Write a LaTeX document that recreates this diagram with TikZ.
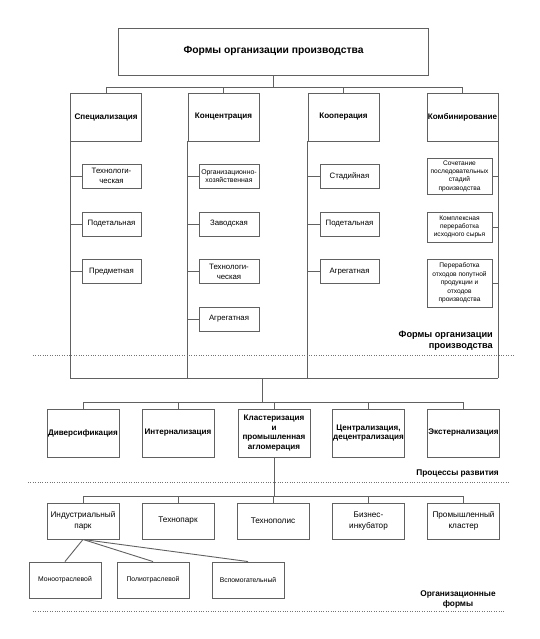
\documentclass[tikz,border=0pt]{standalone}
\usepackage{fontspec}
\setmainfont{Liberation Sans}
\begin{document}
\begin{tikzpicture}[x=1pt,y=-1pt,
  lc/.style={draw=black!62, line width=0.9pt},
  bx/.style={lc, fill=white, inner sep=0pt, align=center, text=black},
  titlebox/.style={bx, minimum width=310pt, minimum height=47pt, font=\bfseries\fontsize{10.3}{12}\selectfont},
  mainbox/.style={bx, minimum width=71pt, minimum height=48pt, font=\bfseries\fontsize{8.1}{9.4}\selectfont},
  procbox/.style={bx, minimum width=72pt, minimum height=48pt, font=\bfseries\fontsize{8.1}{9.4}\selectfont},
  subbox/.style={bx, minimum height=24pt, font=\fontsize{7.8}{10}\selectfont},
  kombbox/.style={bx, minimum width=65pt, font=\fontsize{6.6}{8.4}\selectfont},
  formbox/.style={bx, minimum width=72pt, minimum height=36pt, font=\fontsize{8.2}{11}\selectfont},
  leafbox/.style={bx, minimum width=72pt, minimum height=36pt, font=\fontsize{6.8}{8}\selectfont},
  dotline/.style={draw=black!55, line width=0.8pt, dash pattern=on 1pt off 1.4pt},
  lbl/.style={inner sep=0pt, font=\bfseries\fontsize{8.3}{10}\selectfont}
]
\useasboundingbox (0,0) rectangle (540,639);
\fill[white] (0,0) rectangle (540,639);

% title
\node[titlebox] (top) at (273.5,51.5) {Формы организации производства};

% level 2
\node[mainbox] (spec) at (106,117) {Специализация};
\node[mainbox] (konc) at (223.5,117) {Концентрация};
\node[mainbox] (koop) at (343.5,117) {Кооперация};
\node[mainbox] (komb) at (462.5,117) {Комбинирование};

\coordinate (b1) at (273.5,87);
\draw[lc] (top.south) -- (top.south |- b1);
\foreach \n in {spec,konc,koop,komb}
  \draw[lc] (top.south |- b1) -| (\n.north);

% sub boxes: specialisation
\node[subbox, minimum width=59pt] (s1) at (111.5,176) {Технологи-\\ческая};
\node[subbox, minimum width=59pt] (s2) at (111.5,224) {Подетальная};
\node[subbox, minimum width=59pt] (s3) at (111.5,271.5) {Предметная};
% concentration
\node[subbox, minimum width=60pt, font=\fontsize{6.9}{8.2}\selectfont] (c1) at (229,176) {Организационно-\\хозяйственная};
\node[subbox, minimum width=60pt] (c2) at (229,224) {Заводская};
\node[subbox, minimum width=60pt] (c3) at (229,271.5) {Технологи-\\ческая};
\node[subbox, minimum width=60pt] (c4) at (229,319) {Агрегатная};
% cooperation
\node[subbox, minimum width=59pt] (k1) at (349.5,176) {Стадийная};
\node[subbox, minimum width=59pt] (k2) at (349.5,224) {Подетальная};
\node[subbox, minimum width=59pt] (k3) at (349.5,271.5) {Агрегатная};
% combining
\node[kombbox, minimum height=36pt] (m1) at (459.5,176) {Сочетание\\последовательных\\стадий\\производства};
\node[kombbox, minimum height=30pt] (m2) at (459.5,227) {Комплексная\\переработка\\исходного сырья};
\node[kombbox, minimum height=48pt] (m3) at (459.5,283) {Переработка\\отходов попутной\\продукции и\\отходов\\производства};

% long verticals and bottom bar
\coordinate (bot) at (262,378);
\draw[lc] (spec.south west) -- (spec.south west |- bot);
\draw[lc] (konc.south west) -- (konc.south west |- bot);
\draw[lc] (koop.south west) -- (koop.south west |- bot);
\draw[lc] (komb.south east) -- (komb.south east |- bot);
\draw[lc] (spec.south west |- bot) -- (komb.south east |- bot);
\foreach \s in {s1,s2,s3} \draw[lc] (\s.west) -- (\s.west -| spec.south west);
\foreach \s in {c1,c2,c3,c4} \draw[lc] (\s.west) -- (\s.west -| konc.south west);
\foreach \s in {k1,k2,k3} \draw[lc] (\s.west) -- (\s.west -| koop.south west);
\foreach \s in {m1,m2,m3} \draw[lc] (\s.east) -- (\s.east -| komb.south east);

% label + dotted line 1
\node[lbl, align=right, anchor=north east, font=\bfseries\fontsize{9.2}{11}\selectfont] (l1) at (493,331) {Формы организации\\производства};
\coordinate (d1a) at (33,355);
\coordinate (d1b) at (514,355);
\draw[dotline] (d1a) -- (d1b);

% level 3
\node[procbox] (p1) at (83,433) {Диверсификация};
\node[procbox] (p2) at (178,433) {Интернализация};
\node[procbox] (p3) at (274,433) {Кластеризация\\и\\промышленная\\агломерация};
\node[procbox] (p4) at (368.5,433) {Централизация,\\децентрализация};
\node[procbox] (p5) at (463.5,433) {Экстернализация};

\coordinate (b2) at (262,402);
\draw[lc] (bot) -- (b2);
\foreach \n in {p1,p2,p3,p4,p5}
  \draw[lc] (b2) -| (\n.north);

% label + dotted line 2
\node[lbl, anchor=east] (l2) at (499,474) {Процессы развития};
\coordinate (d2a) at (28,482.5);
\coordinate (d2b) at (509,482.5);
\draw[dotline] (d2a) -- (d2b);

% level 4
\node[formbox] (f1) at (83,521) {Индустриальный\\парк};
\node[formbox] (f2) at (178,521) {Технопарк};
\node[formbox] (f3) at (273,521) {Технополис};
\node[formbox] (f4) at (368.5,521) {Бизнес-\\инкубатор};
\node[formbox] (f5) at (463.5,521) {Промышленный\\кластер};

\coordinate (b3) at (274,496);
\draw[lc] (p3.south) -- (b3);
\foreach \n in {f1,f2,f3,f4,f5}
  \draw[lc] (b3) -| (\n.north);

% level 5
\node[leafbox] (e1) at (65,580) {Моноотраслевой};
\node[leafbox] (e2) at (153,580) {Полиотраслевой};
\node[leafbox] (e3) at (248,580) {Вспомогательный};
\foreach \n in {e1,e2,e3}
  \draw[lc] (f1.south) -- (\n.north);

% label + dotted line 3
\node[lbl, align=center] (l3) at (458,599) {Организационные\\формы};
\coordinate (d3a) at (33,611);
\coordinate (d3b) at (505,611);
\draw[dotline] (d3a) -- (d3b);
\end{tikzpicture}
\end{document}
